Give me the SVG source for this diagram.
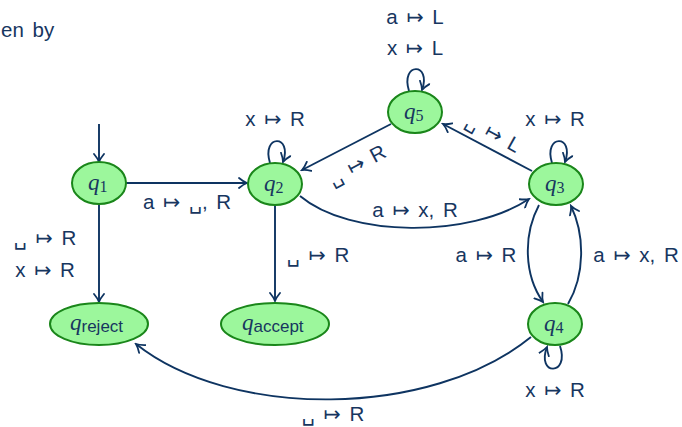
<svg xmlns="http://www.w3.org/2000/svg" width="682" height="427" viewBox="0 0 682 427">
<defs>
<marker id="arr" viewBox="-9 -6 11 12" refX="0" refY="0" markerWidth="11" markerHeight="12" markerUnits="userSpaceOnUse" orient="auto">
<path d="M-8,-5 C-5,-2.5 -2,-0.7 0,0 C-2,0.7 -5,2.5 -8,5" fill="none" stroke="#0e3461" stroke-width="1.8" stroke-linecap="round"/>
</marker>
<style>
.st{fill:#9cf79c;stroke:#1a861a;stroke-width:2}
.q{font-family:"Liberation Serif",serif;font-style:italic;font-size:23px;fill:#17365f}
.sub{font-family:"Liberation Serif",serif;font-style:normal;font-size:16px}
.subs{font-family:"Liberation Sans",sans-serif;font-style:normal;font-size:17px}
.e{fill:none;stroke:#0e3461;stroke-width:1.9;marker-end:url(#arr)}
.l{font-family:"Liberation Sans","DejaVu Sans",sans-serif;font-size:20.5px;fill:#17365f;text-anchor:middle;word-spacing:3px}
.t{font-family:"Liberation Sans",sans-serif;font-size:20.5px;fill:#17365f}
</style>
</defs>
<text class="t" x="1" y="37" style="word-spacing:3px">en by</text>
<g id="connectors">
<path class="e" d="M99,124 L99,162"/>
<path class="e" d="M126,183 L247,183"/>
<path class="e" d="M99,205 L99,302"/>
<path class="e" d="M270,163 C261,134 293,134 283,162"/>
<path class="e" d="M275,206 L275,301"/>
<path class="e" d="M300,196 C350,238 470,238 529,199"/>
<path class="e" d="M532,171 L443,124"/>
<path class="e" d="M391,124 L302,170"/>
<path class="e" d="M409,91 C400,62 432,62 422,90"/>
<path class="e" d="M552,163 C543,134 575,134 565,162"/>
<path class="e" d="M539,205 C523,235 524,275 543,302"/>
<path class="e" d="M568,304 C585,275 585,235 571,206"/>
<path class="e" d="M560,346 C570,376 536,376 547,347"/>
<path class="e" d="M531,337 C430,419 230,419 136,344"/>
</g>
<g id="labels">
<text class="l" x="415" y="24">a ↦ L</text>
<text class="l" x="415" y="55">x ↦ L</text>
<text class="l" x="275" y="126">x ↦ R</text>
<text class="l" x="555" y="126">x ↦ R</text>
<text class="l" x="187" y="209">a ↦ ␣, R</text>
<text class="l" x="415" y="217">a ↦ x, R</text>
<text class="l" x="45" y="245">␣ ↦ R</text>
<text class="l" x="45" y="277">x ↦ R</text>
<text class="l" x="318" y="262">␣ ↦ R</text>
<text class="l" x="486" y="262">a ↦ R</text>
<text class="l" x="636" y="262">a ↦ x, R</text>
<text class="l" x="555" y="397">x ↦ R</text>
<text class="l" x="333" y="421">␣ ↦ R</text>
<text class="l" transform="translate(360,171) rotate(-28)" x="0" y="0">␣ ↦ R</text>
<text class="l" transform="translate(490,139) rotate(29)" x="0" y="0">␣ ↦ L</text>
</g>
<g id="q1"><ellipse class="st" cx="99" cy="183" rx="27" ry="21"/><text class="q" x="88" y="190">q<tspan class="sub" dy="2">1</tspan></text></g>
<g id="q2"><ellipse class="st" cx="275" cy="184" rx="27" ry="21"/><text class="q" x="264" y="191">q<tspan class="sub" dy="2">2</tspan></text></g>
<g id="q5"><ellipse class="st" cx="415" cy="112" rx="27" ry="21"/><text class="q" x="404" y="119">q<tspan class="sub" dy="2">5</tspan></text></g>
<g id="q3"><ellipse class="st" cx="556" cy="184" rx="27" ry="21"/><text class="q" x="545" y="191">q<tspan class="sub" dy="2">3</tspan></text></g>
<g id="q4"><ellipse class="st" cx="555" cy="324" rx="27" ry="21"/><text class="q" x="544" y="331">q<tspan class="sub" dy="2">4</tspan></text></g>
<g id="qreject"><ellipse class="st" cx="99" cy="324" rx="49" ry="21"/><text class="q" x="70" y="330">q<tspan class="subs" dy="2">reject</tspan></text></g>
<g id="qaccept"><ellipse class="st" cx="275" cy="324" rx="54" ry="21"/><text class="q" x="242" y="330">q<tspan class="subs" dy="2">accept</tspan></text></g>
</svg>
